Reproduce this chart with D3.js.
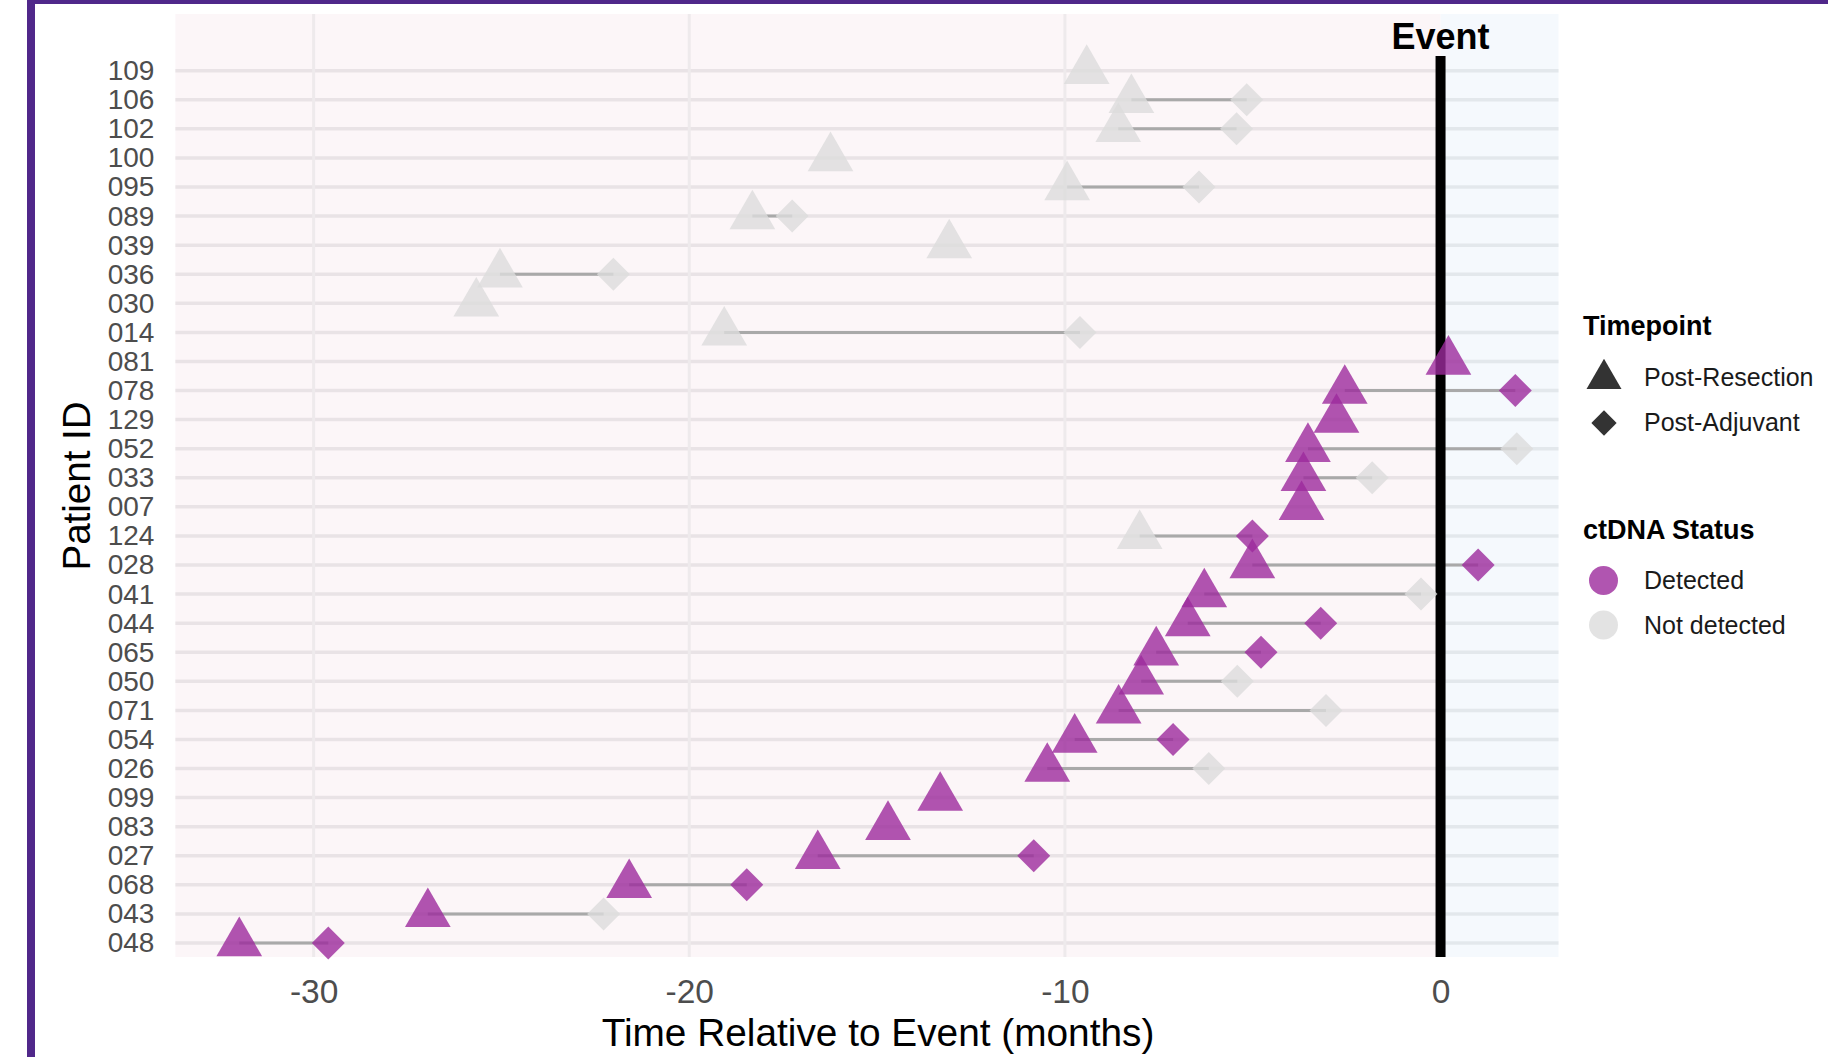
<!DOCTYPE html>
<html>
<head>
<meta charset="utf-8">
<script src="https://cdn.jsdelivr.net/npm/d3@7"></script>
<style>
  html, body { margin: 0; padding: 0; background: #ffffff; }
  svg { display: block; }
  text { font-family: "Liberation Sans", Arial, Helvetica, sans-serif; }
</style>
</head>
<body>
<script>
// ---------------- data ----------------
const patientIds = ["109","106","102","100","095","089","039","036","030","014","081","078","129","052","033","007","124","028","041","044","065","050","071","054","026","099","083","027","068","043","048"];

const postResectionTime = [-9.42,-8.23,-8.58,-16.24,-9.94,-18.32,-13.08,-25.04,-25.67,-19.07,0.21,-2.55,-2.77,-3.53,-3.65,-3.70,-8.01,-5.01,-6.29,-6.73,-7.57,-7.97,-8.57,-9.74,-10.47,-13.32,-14.71,-16.58,-21.60,-26.96,-31.98];
const postResectionStatus = ["Not detected","Not detected","Not detected","Not detected","Not detected","Not detected","Not detected","Not detected","Not detected","Not detected","Detected","Detected","Detected","Detected","Detected","Detected","Not detected","Detected","Detected","Detected","Detected","Detected","Detected","Detected","Detected","Detected","Detected","Detected","Detected","Detected","Detected"];

const postAdjuvantTime = [null,-5.16,-5.43,null,-6.43,-17.26,null,-22.02,null,-9.60,null,1.99,null,2.03,-1.82,null,-5.01,1.00,-0.52,-3.19,-4.78,-5.41,-3.05,-7.12,-6.17,null,null,-10.83,-18.47,-22.28,-29.61];
const postAdjuvantStatus = [null,"Not detected","Not detected",null,"Not detected","Not detected",null,"Not detected",null,"Not detected",null,"Detected",null,"Not detected","Not detected",null,"Detected","Detected","Not detected","Detected","Detected","Not detected","Not detected","Detected","Not detected",null,null,"Detected","Detected","Not detected","Detected"];

const xTickValues = [-30, -20, -10, 0];
const xTickLabels = ["-30", "-20", "-10", "0"];
const timepointLabels = ["Post-Resection", "Post-Adjuvant"];
const statusLabels = ["Detected", "Not detected"];

// ---------------- layout ----------------
const W = 1828, H = 1057;
const panel = { left: 175.4, right: 1558.5, top: 14, bottom: 957 };

const svg = d3.select("body").append("svg").attr("width", W).attr("height", H);
svg.append("rect").attr("width", W).attr("height", H).attr("fill", "#ffffff");

// purple frame
svg.append("rect").attr("x", 27).attr("y", 0).attr("width", W - 27).attr("height", 4).attr("fill", "#50288a");
svg.append("rect").attr("x", 27).attr("y", 0).attr("width", 8).attr("height", H).attr("fill", "#50288a");

const x = d3.scaleLinear().domain([-33.68, 3.14]).range([panel.left, panel.right]);
const y = d3.scalePoint().domain(patientIds).range([70.7, 943]);

const color = d3.scaleOrdinal().domain(statusLabels).range(["#9c2a9c", "#dcdcdc"]);

// backgrounds
svg.append("rect").attr("x", panel.left).attr("y", panel.top)
  .attr("width", x(0) - panel.left).attr("height", panel.bottom - panel.top).attr("fill", "#fcf6f8");
svg.append("rect").attr("x", x(0)).attr("y", panel.top)
  .attr("width", panel.right - x(0)).attr("height", panel.bottom - panel.top).attr("fill", "#f5f9fd");

// grid
const grid = svg.append("g");
grid.selectAll("line.hp").data(patientIds).join("line")
  .attr("x1", panel.left).attr("x2", x(0))
  .attr("y1", d => y(d)).attr("y2", d => y(d))
  .attr("stroke", "#e9e3e6").attr("stroke-width", 3.5);
grid.selectAll("line.hb").data(patientIds).join("line")
  .attr("x1", x(0)).attr("x2", panel.right)
  .attr("y1", d => y(d)).attr("y2", d => y(d))
  .attr("stroke", "#e3e8ec").attr("stroke-width", 3.5);
grid.selectAll("line.v").data(xTickValues.filter(v => v < 0)).join("line")
  .attr("x1", d => x(d)).attr("x2", d => x(d))
  .attr("y1", panel.top).attr("y2", panel.bottom)
  .attr("stroke", "#eeeaec").attr("stroke-width", 3);

// rows
const rows = patientIds.map((id, i) => ({
  id,
  pr: postResectionTime[i], prs: postResectionStatus[i],
  pa: postAdjuvantTime[i], pas: postAdjuvantStatus[i]
}));

// connecting segments
svg.append("g").selectAll("line").data(rows.filter(r => r.pa !== null)).join("line")
  .attr("x1", d => x(d.pr)).attr("x2", d => x(d.pa))
  .attr("y1", d => y(d.id)).attr("y2", d => y(d.id))
  .attr("stroke", "#a9a9a9").attr("stroke-width", 3);

// event line
svg.append("line").attr("x1", x(0)).attr("x2", x(0)).attr("y1", 56).attr("y2", panel.bottom)
  .attr("stroke", "#000").attr("stroke-width", 10);
svg.append("text").attr("x", x(0)).attr("y", 49).attr("text-anchor", "middle")
  .attr("font-size", 36).attr("font-weight", "bold").attr("fill", "#000").text("Event");

// points
const tri = d3.symbol().type(d3.symbolTriangle).size(905);
const dia = d3.symbol().type(d3.symbolSquare).size(544);
const pts = svg.append("g");
pts.selectAll("path.tri").data(rows).join("path")
  .attr("d", tri)
  .attr("transform", d => `translate(${x(d.pr)},${y(d.id)})`)
  .attr("fill", d => color(d.prs)).attr("fill-opacity", 0.8);
pts.selectAll("path.dia").data(rows.filter(r => r.pa !== null)).join("path")
  .attr("d", dia)
  .attr("transform", d => `translate(${x(d.pa)},${y(d.id)}) rotate(45)`)
  .attr("fill", d => color(d.pas)).attr("fill-opacity", 0.8);

// axes
const yAxis = svg.append("g").attr("transform", `translate(${panel.left},0)`)
  .call(d3.axisLeft(y).tickSize(0).tickPadding(21));
yAxis.select(".domain").remove();
yAxis.selectAll("text").attr("font-size", 28).attr("fill", "#4d4d4d")
  .attr("font-family", '"Liberation Sans", Arial, sans-serif');

const xAxis = svg.append("g").attr("transform", `translate(0,${panel.bottom})`)
  .call(d3.axisBottom(x).tickValues(xTickValues)
    .tickFormat((d, i) => xTickLabels[i]).tickSize(0).tickPadding(22));
xAxis.select(".domain").remove();
xAxis.selectAll("text").attr("font-size", 33.5).attr("fill", "#4d4d4d")
  .attr("font-family", '"Liberation Sans", Arial, sans-serif');

// axis titles
svg.append("text").attr("x", 878).attr("y", 1046).attr("text-anchor", "middle")
  .attr("font-size", 38.8).attr("fill", "#000").text("Time Relative to Event (months)");
svg.append("text").attr("transform", "translate(90,486) rotate(-90)").attr("text-anchor", "middle")
  .attr("font-size", 38.5).attr("fill", "#000").text("Patient ID");

// legend
const lg = svg.append("g");
lg.append("text").attr("x", 1583).attr("y", 335).attr("font-size", 27).attr("font-weight", "bold")
  .attr("fill", "#000").text("Timepoint");
lg.append("path").attr("d", d3.symbol().type(d3.symbolTriangle).size(530))
  .attr("transform", "translate(1604,379)").attr("fill", "#333333");
lg.append("path").attr("d", d3.symbol().type(d3.symbolSquare).size(320))
  .attr("transform", "translate(1604,423) rotate(45)").attr("fill", "#333333");
lg.selectAll("text.tp").data(timepointLabels).join("text")
  .attr("x", 1644).attr("y", (d, i) => 386 + i * 45).attr("font-size", 25)
  .attr("fill", "#1a1a1a").text(d => d);

lg.append("text").attr("x", 1583).attr("y", 539).attr("font-size", 27).attr("font-weight", "bold")
  .attr("fill", "#000").text("ctDNA Status");
lg.selectAll("circle").data(statusLabels).join("circle")
  .attr("cx", 1603.5).attr("cy", (d, i) => 580.5 + i * 44.5).attr("r", 14.5)
  .attr("fill", d => color(d)).attr("fill-opacity", 0.8);
lg.selectAll("text.st").data(statusLabels).join("text")
  .attr("x", 1644).attr("y", (d, i) => 589 + i * 44.5).attr("font-size", 25)
  .attr("fill", "#1a1a1a").text(d => d);
</script>
</body>
</html>
